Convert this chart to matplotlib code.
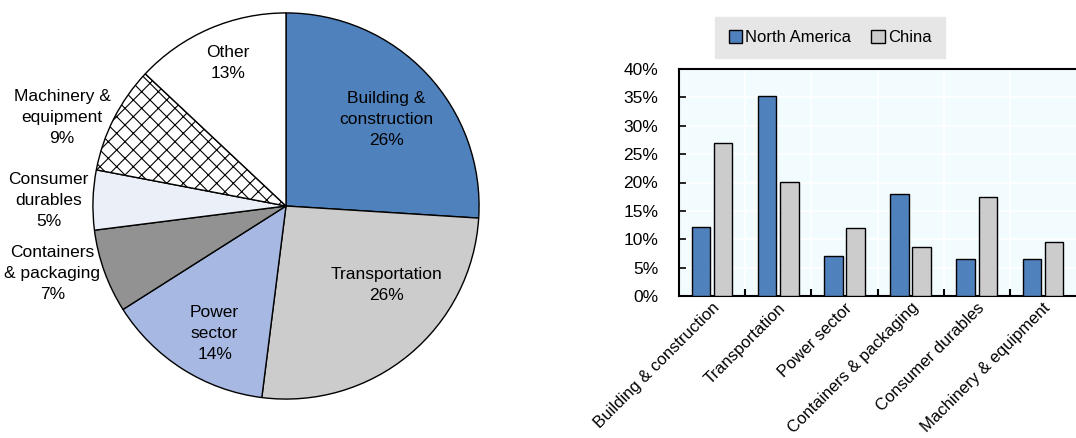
import numpy as np
import matplotlib.pyplot as plt

plt.rcParams['font.family'] = ['Liberation Sans', 'DejaVu Sans']
plt.rcParams['hatch.linewidth'] = 0.8

# 円グラフのデータ
pie_labels = ['Building &\nconstruction\n26%', 'Transportation\n26%', 'Power\nsector\n14%',
              'Containers\n& packaging\n7%', 'Consumer\ndurables\n5%',
              'Machinery &\nequipment\n9%', 'Other\n13%']
pie_shares = [26, 26, 14, 7, 5, 9, 13]
pie_colors = ['#4F81BD', '#CCCCCC', '#A7B9E3', '#929292', '#EAEFF8', '#FFFFFF', '#FFFFFF']
pie_hatch = ['', '', '', '', '', 'xx', '']
# ラベル位置 (半径比)
label_xy = [(0.52, 0.45), (0.52, -0.41), (-0.37, -0.66),
            (-1.21, -0.35), (-1.23, 0.03), (-1.16, 0.46), (-0.30, 0.74)]

# 棒グラフのデータ
sectors = ['Building & construction', 'Transportation', 'Power sector',
           'Containers & packaging', 'Consumer durables', 'Machinery & equipment']
north_america = [12.2, 35.2, 7.0, 18.0, 6.6, 6.5]
china = [26.9, 20.1, 11.9, 8.6, 17.5, 9.6]

fig = plt.figure(figsize=(10.76, 4.38), dpi=100)

# 円グラフ
r_px = 195
ax1 = fig.add_axes([(286 - r_px) / 1076, (438 - 206 - r_px) / 438,
                    2 * r_px / 1076, 2 * r_px / 438])
wedges, _ = ax1.pie(pie_shares, colors=pie_colors, startangle=90, counterclock=False,
                    wedgeprops=dict(edgecolor='black', linewidth=1.0))
for w, h in zip(wedges, pie_hatch):
    w.set_hatch(h)
for lab, (x, y) in zip(pie_labels, label_xy):
    ax1.text(x, y, lab, ha='center', va='center', fontsize=12.5, linespacing=1.5)
ax1.set_xlim(-1.01, 1.01)
ax1.set_ylim(-1.01, 1.01)
ax1.set_aspect('equal')

# 棒グラフ
ax2 = fig.add_axes([679 / 1076, (438 - 296) / 438, (1076 - 679) / 1076, (296 - 69) / 438])
ax2.set_facecolor('#F2FCFF')
x = np.arange(len(sectors))
ax2.bar(x - 0.167, north_america, width=0.28, color='#4F81BD', edgecolor='black',
        linewidth=1.0, label='North America', zorder=3)
ax2.bar(x + 0.167, china, width=0.28, color='#CCCCCC', edgecolor='black',
        linewidth=1.0, label='China', zorder=3)
ax2.set_xlim(-0.5, len(sectors) - 0.5)
ax2.set_ylim(0, 40)
ax2.set_yticks(np.arange(0, 41, 5))
ax2.set_yticklabels(['%d%%' % v for v in range(0, 41, 5)], fontsize=12.5)
ax2.set_xticks(x)
ax2.set_xticklabels(sectors, rotation=45, ha='right', rotation_mode='anchor', fontsize=12)
ax2.set_xticks(np.arange(0.5, len(sectors) - 0.5, 1), minor=True)
ax2.tick_params(axis='x', which='major', length=0, pad=3)
ax2.tick_params(axis='x', which='minor', direction='in', length=5, width=1.5)
ax2.tick_params(axis='y', direction='in', length=5, width=1.2, pad=15)
ax2.grid(axis='y', color='white', linewidth=1.2, zorder=0)
ax2.grid(axis='x', which='minor', color='white', linewidth=1.2, zorder=0)
ax2.set_axisbelow(True)
for s in ['left', 'bottom', 'top']:
    ax2.spines[s].set_linewidth(1.5)
ax2.spines['right'].set_visible(False)

leg = ax2.legend(loc='center', bbox_to_anchor=((830 - 679) / (1076 - 679), 1 + (69 - 37.5) / 227),
                 ncol=2, frameon=True, fontsize=12, handlelength=0.8, handleheight=0.8,
                 handletextpad=0.2, columnspacing=1.2, borderpad=0.8, fancybox=False)
leg.get_frame().set_facecolor('#E6E6E6')
leg.get_frame().set_edgecolor('#E6E6E6')
leg.get_frame().set_alpha(1)

fig.savefig('out.png', dpi=100)
